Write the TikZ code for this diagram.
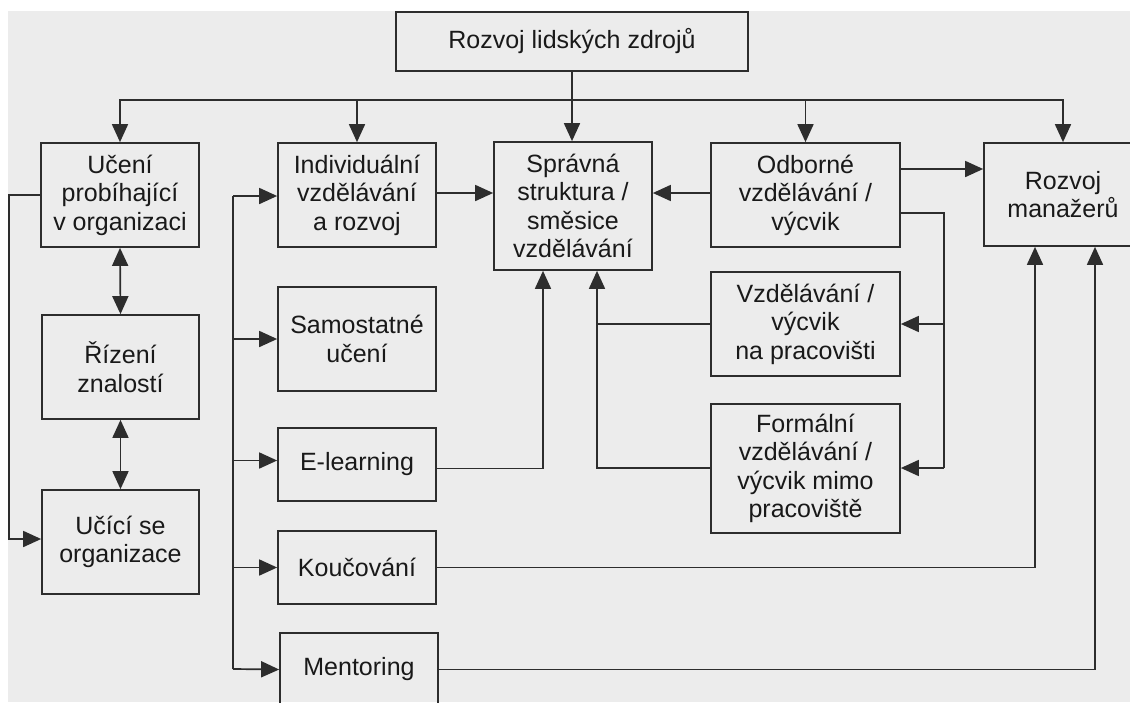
\documentclass[tikz,border=0pt]{standalone}
\usepackage{fontspec}
\setmainfont{Liberation Sans}
\usetikzlibrary{arrows.meta,calc}
\definecolor{pagegray}{RGB}{236,236,236}
\definecolor{ink}{RGB}{45,45,45}
\definecolor{txt}{RGB}{25,25,25}
\begin{document}
\begin{tikzpicture}[x=1pt,y=-1pt,
  box/.style={draw=ink, line width=1.7pt, align=center, text=txt,
    font=\fontsize{25}{28.5}\selectfont, inner sep=0pt},
  arr/.style={draw=ink, line width=1.7pt, -{Triangle[length=18pt,width=16pt]}},
  arrtwo/.style={draw=ink, line width=1.7pt,
    {Triangle[length=18pt,width=16pt]}-{Triangle[length=18pt,width=16pt]}},
  ln/.style={draw=ink, line width=1.7pt}]
\useasboundingbox (0,0) rectangle (1130,702);
\clip (0,0) rectangle (1130,702);
\fill[white] (0,0) rectangle (1130,702);
\fill[pagegray] (8,11) rectangle (1130,702);

% nodes
\node[box, minimum width=352pt, minimum height=59pt] (top) at (572,41.5) {Rozvoj lidských zdrojů};
\node[box, minimum width=158pt, minimum height=104pt] (ucen) at (120,195) {Učení\\probíhající\\v organizaci};
\node[box, minimum width=158pt, minimum height=104pt] (indiv) at (357,195) {Individuální\\vzdělávání\\a rozvoj};
\node[box, minimum width=158pt, minimum height=128pt] (sprav) at (573,206) {Správná\\struktura /\\směsice\\vzdělávání};
\node[box, minimum width=189pt, minimum height=104pt] (odb) at (805.5,195) {Odborné\\vzdělávání /\\výcvik};
\node[box, minimum width=158pt, minimum height=103pt] (rozm) at (1063,194.5) {Rozvoj\\manažerů};
\node[box, minimum width=157pt, minimum height=104pt] (rizeni) at (120.5,367) {Řízení\\znalostí};
\node[box, minimum width=157pt, minimum height=104pt] (ucici) at (120.5,542) {Učící se\\organizace};
\node[box, minimum width=158pt, minimum height=104pt] (samo) at (357,339) {Samostatné\\učení};
\node[box, minimum width=158pt, minimum height=73pt] (elearn) at (357,464.5) {E-learning};
\node[box, minimum width=158pt, minimum height=73pt] (kouc) at (357,567.5) {Koučování};
\node[box, minimum width=158pt, minimum height=73pt] (ment) at (359,669.5) {Mentoring};
\node[box, minimum width=189pt, minimum height=104pt] (vzdel) at (805.5,324) {Vzdělávání /\\výcvik\\na pracovišti};
\node[box, minimum width=189pt, minimum height=129pt] (form) at (805.5,468.5) {Formální\\vzdělávání /\\výcvik mimo\\pracoviště};

% helper coordinates
\coordinate (bus) at (572,100);
\coordinate (lp) at (9,195);
\coordinate (vt) at (233,196);
\coordinate (vb) at (233,669);
\coordinate (cr) at (944,468);
\coordinate (cs) at (597,468);

% top distribution
\draw[arr] (top.south) -- (top.south |- sprav.north);
\draw[ln] (bus -| ucen.north) -- (bus -| rozm.north);
\draw[arr] (bus) -| (ucen.north);
\draw[arr] (bus) -| (indiv.north);
\draw[arr] (bus) -| (odb.north);
\draw[arr] (bus) -| (rozm.north);

% top row
\draw[arr] ([yshift=2pt]indiv.east) -- ([yshift=2pt]indiv.east -| sprav.west);
\draw[arr] ([yshift=2pt]odb.west) -- ([yshift=2pt]odb.west -| sprav.east);
\draw[arr] ([yshift=26pt]odb.east) -- ([yshift=26pt]odb.east -| rozm.west);

% left column
\draw[arr] (ucen.west) -- (lp) |- ([yshift=3pt]ucici.west);
\draw[arrtwo] (ucen.south) -- (rizeni.north);
\draw[arrtwo] (rizeni.south) -- (ucici.north);

% learning methods bus
\draw[ln] (vt) -- (vb);
\draw[arr] (vt) -- (vt -| indiv.west);
\draw[arr] (vt |- samo.west) -- (samo.west);
\draw[arr] ([yshift=4pt]elearn.west -| vt) -- ([yshift=4pt]elearn.west);
\draw[arr] (vt |- kouc.west) -- (kouc.west);
\draw[arr] (vb) -- (ment.west);

% right side
\draw[ln] ([yshift=-18pt]odb.east) -| (cr);
\draw[arr] (cr |- vzdel.east) -- (vzdel.east);
\draw[arr] (cr) -- (cr -| form.east);
\draw[ln] (vzdel.west) -- (vzdel.west -| cs);
\draw[arr] (form.west |- cs) -| ([xshift=24pt]sprav.south);
\draw[arr] ([yshift=-4pt]elearn.east) -| ([xshift=-30pt]sprav.south);
\draw[arr] (kouc.east) -| ([xshift=-28pt]rozm.south);
\draw[arr] (ment.east) -| ([xshift=32pt]rozm.south);
\end{tikzpicture}
\end{document}
